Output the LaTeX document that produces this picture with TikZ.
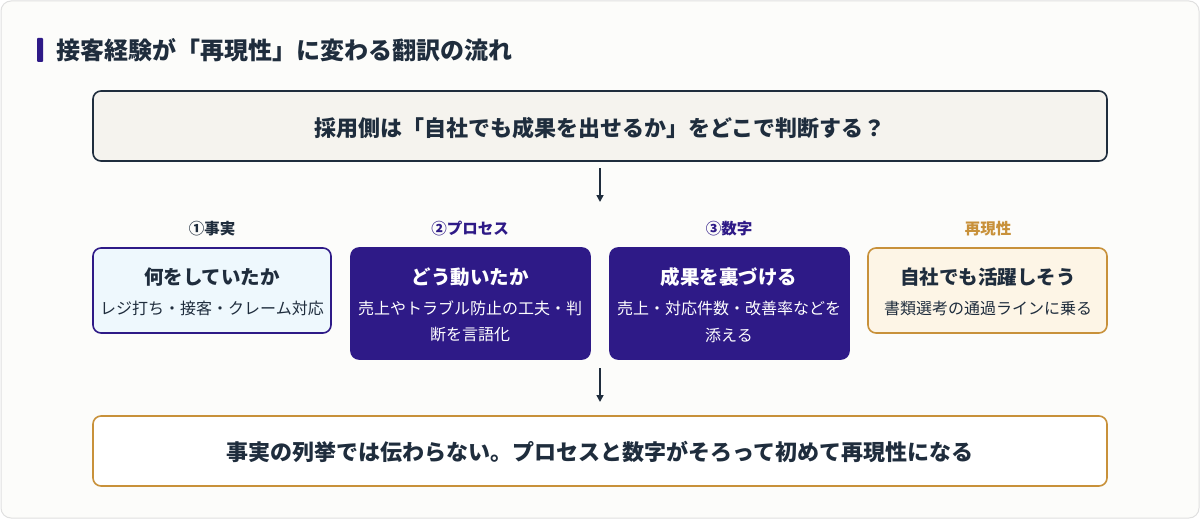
\documentclass[tikz,border=0pt]{standalone}
\usepackage{fontspec}
\setmainfont{Noto Sans CJK JP}
\usetikzlibrary{arrows.meta}
\definecolor{navy}{HTML}{1F2D3D}
\definecolor{purp}{HTML}{2E1A87}
\definecolor{gold}{HTML}{C8913A}
\definecolor{bgc}{HTML}{FCFCFA}
\begin{document}
\begin{tikzpicture}[x=1pt,y=-1pt,
 box/.style={rounded corners=8pt,line width=1.6pt,inner sep=0pt},
 ttl/.style={font=\fontsize{19.5}{22}\selectfont\bfseries,anchor=center},
 sub/.style={font=\fontsize{16}{18}\selectfont,anchor=center},
 lab/.style={font=\fontsize{15.5}{18}\selectfont\bfseries,anchor=center},
 arr/.style={-{Triangle[length=7pt,width=7pt]},line width=1.6pt,navy}]
\useasboundingbox (0,0) rectangle (1200,519);
\draw[rounded corners=10pt,fill=bgc,draw=black!12,line width=1pt] (1,1) rectangle (1199,518);
\fill[purp,rounded corners=1pt] (37,38) rectangle (43,62);
\node[anchor=west,text=navy,font=\fontsize{24}{28}\selectfont\bfseries] (title) at (53,50) {接客経験が「再現性」に変わる翻訳の流れ};
\draw[box,draw=navy,fill={rgb,255:red,245;green,243;blue,238}] (93,91) rectangle (1107,161);
\node[text=navy,font=\fontsize{22}{26}\selectfont\bfseries] (q) at (600,128) {採用側は「自社でも成果を出せるか」をどこで判断する？};
\coordinate (a1s) at (600,168); \coordinate (a1e) at (600,202);
\draw[arr] (a1s) -- (a1e);
\node[lab,text=navy] (l1) at (212,229) {①事実};
\node[lab,text=purp] (l2) at (470,229) {②プロセス};
\node[lab,text=purp] (l3) at (729,229) {③数字};
\node[lab,text=gold] (l4) at (988,229) {再現性};
\draw[box,draw=purp,fill={rgb,255:red,238;green,248;blue,253}] (93,248) rectangle (331,333);
\node[ttl,text=navy] (t1) at (212,277) {何をしていたか};
\node[sub,text=navy] (s1) at (212,308) {レジ打ち・接客・クレーム対応};
\draw[box,draw=purp,fill=purp] (351,248) rectangle (590,359);
\node[ttl,text=white] (t2) at (470,277) {どう動いたか};
\node[sub,text=white] (s2a) at (470,308) {売上やトラブル防止の工夫・判};
\node[sub,text=white] (s2b) at (470,335) {断を言語化};
\draw[box,draw=purp,fill=purp] (610,248) rectangle (849,359);
\node[ttl,text=white] (t3) at (729,277) {成果を裏づける};
\node[sub,text=white] (s3a) at (729,308) {売上・対応件数・改善率などを};
\node[sub,text=white] (s3b) at (729,335) {添える};
\draw[box,draw=gold,fill={rgb,255:red,253;green,245;blue,230}] (868,248) rectangle (1107,333);
\node[ttl,text=navy] (t4) at (988,277) {自社でも活躍しそう};
\node[sub,text=navy] (s4) at (988,308) {書類選考の通過ラインに乗る};
\coordinate (a2s) at (600,368); \coordinate (a2e) at (600,402);
\draw[arr] (a2s) -- (a2e);
\draw[box,draw=gold,fill=white] (93,416) rectangle (1107,486);
\node[text=navy,font=\fontsize{22}{26}\selectfont\bfseries] (c) at (600,452) {事実の列挙では伝わらない。プロセスと数字がそろって初めて再現性になる};
\end{tikzpicture}
\end{document}
